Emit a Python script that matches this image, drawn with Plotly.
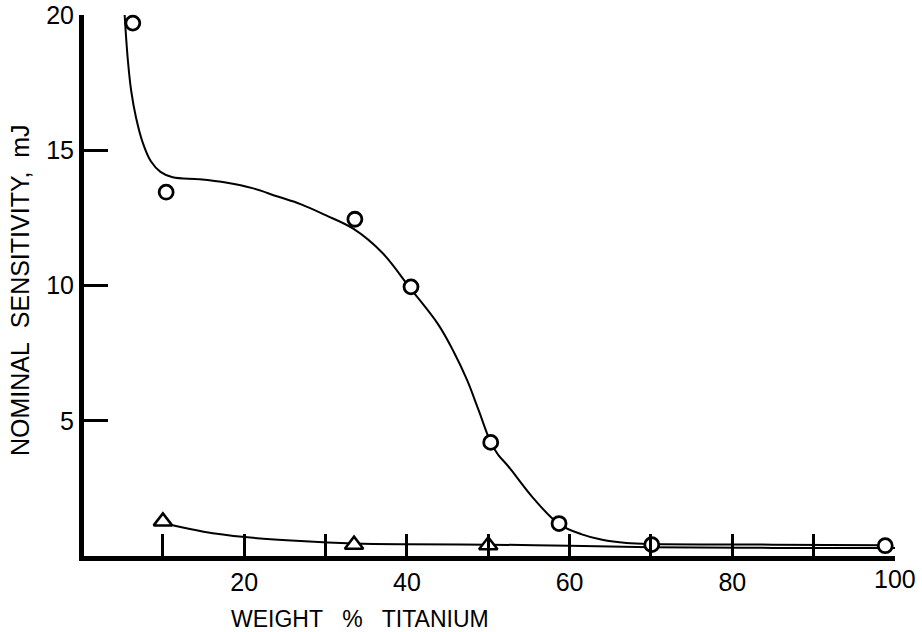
import plotly.graph_objects as go

# Data points
circle_x = [6.3, 10.4, 33.6, 40.5, 50.3, 58.7, 70.1, 98.8]
circle_y = [19.7, 13.45, 12.45, 9.95, 4.2, 1.2, 0.42, 0.38]

tri_x = [10.0, 33.5, 50.0, 101.3]
tri_y = [1.28, 0.42, 0.4, 0.35]

# Hand-drawn fitted curves
curve1_x = [5.3, 5.4, 5.7, 6.1, 6.7, 7.5, 8.5, 9.7, 11.2, 14.5, 17.9, 21.0, 24.0, 27.0, 30.0,
            33.4, 37.0, 40.4, 43.8, 45.7, 47.4, 48.8, 50.3, 51.2, 52.5, 55.5, 58.7, 61.5, 64.0,
            67.0, 70.0, 85.0, 98.8]
curve1_y = [20.0, 19.5, 18.3, 17.2, 16.2, 15.3, 14.6, 14.2, 14.0, 13.93, 13.8, 13.6, 13.3, 13.0, 12.6,
            12.1, 11.2, 9.9, 8.58, 7.58, 6.5, 5.4, 4.2, 3.75, 3.3, 2.15, 1.18, 0.8, 0.6,
            0.48, 0.44, 0.42, 0.4]

curve2_x = [10.5, 15.0, 20.1, 26.9, 33.5, 40.0, 50.0, 60.0, 70.0, 85.0, 101.3]
curve2_y = [1.18, 0.9, 0.7, 0.55, 0.46, 0.43, 0.42, 0.38, 0.32, 0.3, 0.3]

x_tickvals = [10, 20, 30, 40, 50, 60, 70, 80, 90]
x_ticktext = ["", "20", "", "40", "", "60", "", "80", ""]
y_tickvals = [5, 10, 15, 20]
y_ticktext = ["5", "10", "15", "20"]

FONT = "Liberation Sans"
W, H = 922, 632
ML, MR, MT, MB = 84, 27, 15, 76

fig = go.Figure()
fig.add_trace(go.Scatter(x=curve1_x, y=curve1_y, mode="lines",
                         line=dict(color="black", width=2, shape="spline", smoothing=1.0),
                         cliponaxis=False, hoverinfo="skip"))
fig.add_trace(go.Scatter(x=curve2_x, y=curve2_y, mode="lines",
                         line=dict(color="black", width=2, shape="spline", smoothing=1.0),
                         cliponaxis=False, hoverinfo="skip"))
fig.add_trace(go.Scatter(x=circle_x, y=circle_y, mode="markers",
                         marker=dict(symbol="circle", size=14, color="white",
                                     line=dict(color="black", width=2.8)),
                         cliponaxis=False))
fig.add_trace(go.Scatter(x=tri_x, y=tri_y, mode="markers",
                         marker=dict(symbol="triangle-up", size=16, color="white",
                                     line=dict(color="black", width=2.5)),
                         cliponaxis=False))


def px_to_paper(px, py):
    return (px - ML) / (W - ML - MR), (H - py - MB) / (H - MT - MB)


tx, ty = px_to_paper(360, 619)
yx, yy = px_to_paper(20, 290)

fig.update_layout(
    width=W, height=H,
    margin=dict(l=ML, r=MR, t=MT, b=MB),
    plot_bgcolor="white", paper_bgcolor="white",
    showlegend=False,
    font=dict(family=FONT, color="black", size=24),
    xaxis=dict(range=[0.3, 100], showgrid=False, zeroline=False, automargin=False,
               showline=True, linecolor="black", linewidth=5,
               tickmode="array", tickvals=x_tickvals, ticktext=x_ticktext,
               ticks="inside", ticklen=22, tickwidth=3, tickcolor="black",
               tickfont=dict(family=FONT, size=25)),
    yaxis=dict(range=[0, 20], showgrid=False, zeroline=False, automargin=False,
               showline=True, linecolor="black", linewidth=5,
               tickmode="array", tickvals=y_tickvals, ticktext=y_ticktext,
               ticks="inside", ticklen=24, tickwidth=3, tickcolor="black",
               tickfont=dict(family=FONT, size=25)),
    annotations=[
        dict(text="100", x=100, y=0, xref="x", yref="y", showarrow=False,
             yanchor="top", yshift=-7, font=dict(family=FONT, size=25)),
        dict(text="WEIGHT\u00a0\u00a0\u00a0%\u00a0\u00a0\u00a0TITANIUM", x=tx, y=ty,
             xref="paper", yref="paper", showarrow=False, xanchor="center", yanchor="middle",
             font=dict(family=FONT, size=23)),
        dict(text="NOMINAL\u00a0\u00a0SENSITIVITY,\u00a0\u00a0mJ", textangle=-90,
             x=yx, y=yy, xref="paper", yref="paper", showarrow=False,
             xanchor="center", yanchor="middle",
             font=dict(family=FONT, size=25)),
    ],
)

fig.write_html("out.html")
